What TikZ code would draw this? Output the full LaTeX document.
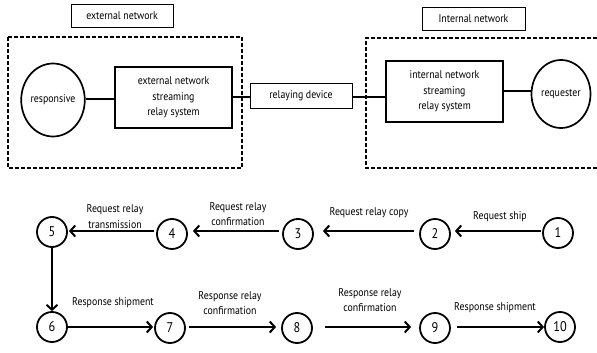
\documentclass[tikz,border=0pt]{standalone}
\usepackage{fontspec}
\setmainfont{PT Sans}[FakeStretch=0.88]
\usetikzlibrary{arrows.meta,shapes.geometric}
\begin{document}
\begin{tikzpicture}[x=1pt,y=-1pt,
  every node/.style={font=\fontsize{11.2}{15.5}\selectfont, align=center, inner sep=0pt},
  tag/.style={draw, line width=0.8pt, minimum height=23pt},
  sysbox/.style={draw, line width=1.8pt},
  peer/.style={draw, ellipse, line width=1.7pt},
  zone/.style={line width=1.6pt, dash pattern=on 4pt off 2pt},
  link/.style={line width=1.4pt},
  step circ/.style={draw, circle, line width=1.8pt, minimum size=30pt, font=\fontsize{14}{16}\selectfont},
  flow/.style={line width=2pt, -{Straight Barb[length=5pt,width=11pt,line width=2pt]}},
  lbl/.style={font=\fontsize{11.2}{15.5}\selectfont}
]
\useasboundingbox (0,0) rectangle (597,353);

% network zones
\draw[zone] (8,37) rectangle (242,168);
\draw[zone] (597,38) -- (366,38) -- (366,168) -- (597,168);
\node[tag, minimum width=102pt] (extlbl) at (122,16) {external network};
\node[tag, minimum width=103pt] (intlbl) at (473.5,18.5) {Internal network};

% streaming components
\node[peer, minimum width=60pt, minimum height=73pt] (resp) at (53,100) {responsive};
\node[sysbox, minimum width=117pt, minimum height=61pt] (extsys) at (173.5,97.5) {external network\\streaming\\relay system};
\node[tag, minimum width=102pt, minimum height=25pt] (relay) at (301,96) {relaying device};
\node[sysbox, minimum width=117pt, minimum height=61pt] (intsys) at (444.5,91.5) {internal network\\streaming\\relay system};
\node[peer, minimum width=59pt, minimum height=68pt] (req) at (561,94) {requester};

\draw[link] (resp.east |- 0,99) -- (extsys.west |- 0,99);
\draw[link] (extsys.east |- 0,97) -- (relay.west |- 0,97);
\draw[link] (relay.east |- 0,97) -- (intsys.west |- 0,97);
\draw[link] (intsys.east |- 0,91) -- (req.west |- 0,91);

% request path
\node[step circ] (n1) at (558,233) {1};
\node[step circ] (n2) at (435,234) {2};
\node[step circ] (n3) at (298,234) {3};
\node[step circ] (n4) at (172,234) {4};
\node[step circ] (n5) at (52,232) {5};
% response path
\node[step circ] (n6) at (52,327) {6};
\node[step circ] (n7) at (170,328) {7};
\node[step circ] (n8) at (297,328) {8};
\node[step circ] (n9) at (435,328) {9};
\node[step circ] (n10) at (560,327) {10};

\draw[flow] ([xshift=-1pt]n1.west |- 0,231) -- ([xshift=4pt]n2.east |- 0,231);
\draw[flow] ([xshift=-5pt]n2.west |- 0,231) -- ([xshift=9pt]n3.east |- 0,231);
\draw[flow] ([xshift=-3pt]n3.west |- 0,231) -- ([xshift=5pt]n4.east |- 0,231);
\draw[flow] ([xshift=-2pt]n4.west |- 0,231) -- ([xshift=1pt]n5.east |- 0,231);
\draw[flow] (n5.south) -- (n6.north);
\draw[flow] (n6.east |- 0,327) -- ([xshift=-1pt]n7.west |- 0,327);
\draw[flow] ([xshift=3pt]n7.east |- 0,327) -- ([xshift=-5pt]n8.west |- 0,327);
\draw[flow] ([xshift=12pt]n8.east |- 0,327) -- ([xshift=-8pt]n9.west |- 0,327);
\draw[flow] ([xshift=6pt]n9.east |- 0,327) -- (n10.west |- 0,327);

% step labels
\node[lbl] (t12) at (500,217) {Request ship};
\node[lbl] (t23) at (369,213) {Request relay copy};
\node[lbl] (t34) at (238,214) {Request relay\\confirmation};
\node[lbl] (t45) at (115,216.5) {Request relay\\transmission};
\node[lbl] (t67) at (113,303) {Response shipment};
\node[lbl] (t78) at (230,303) {Response relay\\confirmation};
\node[lbl] (t89) at (370,300) {Response relay\\confirmation};
\node[lbl] (t910) at (495,308) {Response shipment};
\end{tikzpicture}
\end{document}
